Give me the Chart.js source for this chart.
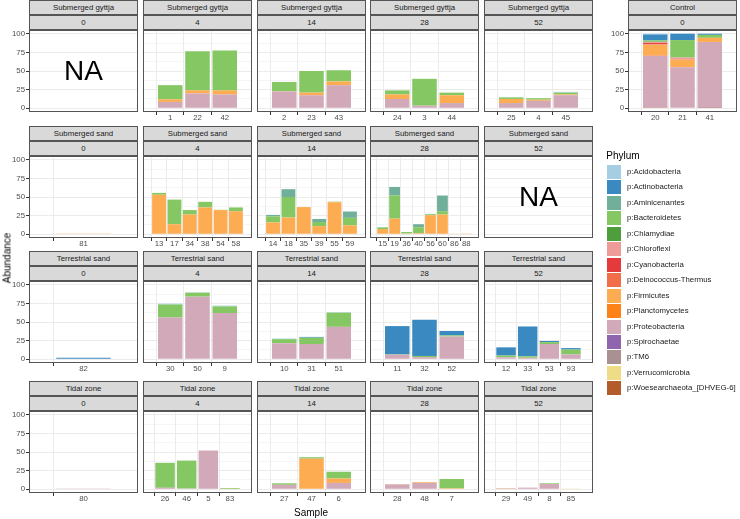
<!DOCTYPE html>
<html lang="en">
<head>
<meta charset="UTF-8">
<title>Phylum abundance by habitat and time</title>
<style>
  body { margin: 0; background: #fff; font-family: "Liberation Sans", Arial, sans-serif; }
  #wrap { position: relative; width: 740px; height: 519px; overflow: hidden; }
  canvas { position: absolute; }
  .strip { position: absolute; box-sizing: border-box; height: 15px; background: #d9d9d9; border: 1px solid #555;
           color: #1a1a1a; font-size: 7.8px; line-height: 13px; text-align: center; white-space: nowrap; }
  .na { position: absolute; font-size: 28px; color: #000; transform: translate(-50%, -50%); }
  .title { position: absolute; font-size: 10px; color: #000; white-space: nowrap; transform: translate(-50%, -50%); }
  .key { position: absolute; width: 14px; height: 14px; }
  .keylab { position: absolute; font-size: 7.8px; color: #1a1a1a; line-height: 14px; white-space: nowrap; }
</style>
<script src="https://cdn.jsdelivr.net/npm/chart.js"></script>
</head>
<body>
<div id="wrap"></div>
<script>
// legend order (top of each stacked bar first)
const phyla = ['Acidobacteria', 'Actinobacteria', 'Aminicenantes', 'Bacteroidetes', 'Chlamydiae',
  'Chloroflexi', 'Cyanobacteria', 'Deinococcus-Thermus', 'Firmicutes', 'Planctomycetes',
  'Proteobacteria', 'Spirochaetae', 'TM6', 'Verrucomicrobia', 'Woesearchaeota_[DHVEG-6]'];
const phylumColors = ['#a6cee3', '#3a89c0', '#70b09b', '#84c763', '#4f9e3c', '#ef9b98', '#e53a3b',
  '#f06e48', '#fdac52', '#fd8217', '#d2a9b8', '#8f65ae', '#a89093', '#efdc87', '#b45b2c'];

const habitats = ['Submerged gyttja', 'Submerged sand', 'Terrestrial sand', 'Tidal zone'];
const times = ['0', '4', '14', '28', '52'];
const yTicks = [0, 12.5, 25, 37.5, 50, 62.5, 75, 87.5, 100];

// Submerged gyttja
const sg4 = { samples: ['1', '22', '42'],
  Proteobacteria: [8.5, 20, 18.5], Firmicutes: [3.5, 4, 5.5], Bacteroidetes: [19, 52.5, 53.5] };
const sg14 = { samples: ['2', '23', '43'],
  Proteobacteria: [22.5, 17.5, 31], Firmicutes: [0.3, 3.5, 5], Bacteroidetes: [12.5, 29, 15] };
const sg28 = { samples: ['24', '3', '44'],
  Proteobacteria: [12.5, 3.5, 7], Firmicutes: [6, 0, 10.5], Bacteroidetes: [5.5, 36, 3.5] };
const sg52 = { samples: ['25', '4', '45'],
  Proteobacteria: [7, 10, 17.5], Firmicutes: [5.5, 1.5, 1], Bacteroidetes: [2, 2, 2.5], Acidobacteria: [0.5, 0.3, 1] };

// Control
const control0 = { samples: ['20', '21', '41'],
  'Woesearchaeota_[DHVEG-6]': [0, 0, 0.5], Verrucomicrobia: [0.5, 0, 0], Proteobacteria: [70, 55, 88.5],
  Planctomycetes: [0.8, 0, 0], Firmicutes: [14, 10, 5.5], 'Deinococcus-Thermus': [0.7, 0.5, 0],
  Cyanobacteria: [1.5, 0, 0], Chloroflexi: [1.3, 2.5, 0], Chlamydiae: [0.4, 0, 0],
  Bacteroidetes: [1.8, 23.5, 4], Actinobacteria: [8, 8.5, 1.5], Acidobacteria: [1, 0, 0] };

// Submerged sand
const ss0 = { samples: ['81'], Firmicutes: [0.5] };
const ss4 = { samples: ['13', '17', '34', '38', '54', '58'],
  Firmicutes: [53, 13.5, 26.5, 36, 32.5, 31], Bacteroidetes: [2.5, 33, 6, 7.5, 0.3, 5] };
const ss14 = { samples: ['14', '18', '35', '39', '55', '59'],
  Firmicutes: [16, 22.5, 36.5, 11, 43, 12], Bacteroidetes: [8, 27.5, 0, 5.5, 0.7, 10],
  Aminicenantes: [2, 10.5, 0, 4, 0, 8.5] };
const ss28 = { samples: ['15', '19', '36', '40', '56', '60', '86', '88'],
  Firmicutes: [7, 21, 1, 1.5, 25.5, 26.5, 0.4, 0.3], Bacteroidetes: [2, 31, 2, 8, 1.5, 4.5, 0, 0],
  Aminicenantes: [0.5, 11.5, 0, 4, 0, 21, 0, 0] };

// Terrestrial sand
const ts0 = { samples: ['82'], Actinobacteria: [2] };
const ts4 = { samples: ['30', '50', '9'],
  Proteobacteria: [56, 84, 62], Bacteroidetes: [17.5, 5.3, 9], Acidobacteria: [1, 0.5, 1] };
const ts14 = { samples: ['10', '31', '51'],
  Proteobacteria: [21.5, 20.5, 43.5], Bacteroidetes: [5.5, 8.5, 19], Actinobacteria: [0, 1, 0], Acidobacteria: [0.8, 0, 0.7] };
const ts28 = { samples: ['11', '32', '52'],
  Proteobacteria: [6, 3, 30.5], Bacteroidetes: [0.5, 1.5, 1.5], Actinobacteria: [38, 48.5, 6] };
const ts52 = { samples: ['12', '33', '53', '93'],
  Proteobacteria: [2.5, 2, 20.5, 6.5], Bacteroidetes: [2.5, 2, 2.5, 6.5], Actinobacteria: [11, 40, 1.5, 2] };

// Tidal zone
const tz0 = { samples: ['80'], Proteobacteria: [0.2] };
const tz4 = { samples: ['26', '46', '5', '83'],
  Proteobacteria: [2, 1, 52, 0], Firmicutes: [0, 0, 0, 0.5], Bacteroidetes: [33.5, 37.5, 0, 1] };
const tz14 = { samples: ['27', '47', '6'],
  Proteobacteria: [6, 0, 8.5], Firmicutes: [0, 41, 6], Bacteroidetes: [2, 2, 9] };
const tz28 = { samples: ['28', '48', '7'],
  Proteobacteria: [6.5, 8.5, 0], Firmicutes: [0.5, 1, 1.3], Bacteroidetes: [0, 0, 12.5] };
const tz52 = { samples: ['29', '49', '8', '85'],
  Proteobacteria: [1.2, 2.2, 7, 0], Firmicutes: [0.5, 0, 0, 0], Bacteroidetes: [0, 0, 1, 0], Verrucomicrobia: [0, 0, 0, 0.3] };

// null = no samples (NA facet)
const facets = [
  [null, sg4, sg14, sg28, sg52],
  [ss0, ss4, ss14, ss28, null],
  [ts0, ts4, ts14, ts28, ts52],
  [tz0, tz4, tz14, tz28, tz52]
];

// layout
const colLeft = [29, 143, 257, 370, 484];
const controlLeft = 628;
const rowTop = [30, 156, 281, 411];
const panelW = 109, panelH = 82, axisW = 30, axisH = 16;

Chart.defaults.font.family = '"Liberation Sans", Arial, sans-serif';

const wrap = document.getElementById('wrap');

const framePlugin = {
  id: 'frame',
  afterDraw(chart) {
    const { ctx, chartArea: a } = chart;
    ctx.save();
    ctx.strokeStyle = '#555';
    ctx.lineWidth = 1;
    ctx.strokeRect(a.left + 0.5, a.top + 0.5, a.right - a.left - 1, a.bottom - a.top - 1);
    ctx.restore();
  }
};

function addDiv(cls, text, left, top, width) {
  const el = document.createElement('div');
  el.className = cls;
  el.textContent = text;
  el.style.left = left + 'px';
  el.style.top = top + 'px';
  if (width) el.style.width = width + 'px';
  wrap.appendChild(el);
  return el;
}

const tickVal = c => (c.tick ? c.tick.value : NaN);

function makePanel(left, top, d, yAxis, label1, label2) {
  addDiv('strip', label1, left, top - 30, panelW);
  addDiv('strip', label2, left, top - 15, panelW);

  const ax = yAxis ? axisW : 0;
  const cv = document.createElement('canvas');
  cv.width = panelW + ax;
  cv.height = panelH + axisH;
  cv.style.left = (left - ax) + 'px';
  cv.style.top = top + 'px';
  wrap.appendChild(cv);

  const samples = d ? d.samples : [];
  const n = samples.length;
  const inRange = v => v >= 0 && v < n;
  const isMajor = v => v % 25 === 0;

  // bottom of the stack first
  const datasets = [];
  for (let i = phyla.length - 1; i >= 0; i--) {
    const vals = d ? d[phyla[i]] : null;
    if (!vals) continue;
    const pts = [];
    vals.forEach((v, j) => { if (v > 0) pts.push({ x: j, y: v }); });
    if (pts.length) datasets.push({ label: 'p:' + phyla[i], data: pts, backgroundColor: phylumColors[i] });
  }

  new Chart(cv, {
    type: 'bar',
    data: { datasets },
    plugins: [framePlugin],
    options: {
      responsive: false,
      animation: false,
      devicePixelRatio: 1,
      layout: { padding: 0, autoPadding: false },
      plugins: { legend: { display: false }, tooltip: { enabled: false } },
      datasets: { bar: { categoryPercentage: 1, barPercentage: 0.9, borderWidth: 0 } },
      scales: {
        x: {
          type: 'linear', stacked: true, min: -0.6, max: n - 0.4,
          afterBuildTicks: s => {
            s.ticks = [];
            for (let i = -1; i <= n; i++) s.ticks.push({ value: i });
          },
          afterFit: s => { s.height = axisH; s.paddingLeft = 0; s.paddingRight = 0; },
          ticks: {
            autoSkip: false, maxRotation: 0, padding: -1, color: '#4d4d4d',
            font: { size: 7.8, lineHeight: 1 },
            callback: v => samples[v] ?? ''
          },
          grid: {
            color: c => inRange(tickVal(c)) ? '#ebebeb' : 'transparent',
            tickColor: c => inRange(tickVal(c)) ? '#333' : 'transparent',
            tickLength: 3, lineWidth: 1
          },
          border: { display: false }
        },
        y: {
          stacked: true, min: -5, max: 105,
          afterBuildTicks: s => { s.ticks = yTicks.map(v => ({ value: v })); },
          afterFit: s => { s.width = ax; s.paddingTop = 0; s.paddingBottom = 0; },
          ticks: {
            display: yAxis, padding: 1, color: '#4d4d4d',
            font: { size: 7.8, lineHeight: 1 },
            callback: v => isMajor(v) ? v : ''
          },
          grid: {
            color: '#ebebeb',
            lineWidth: c => isMajor(tickVal(c)) ? 1 : 0.5,
            tickColor: c => yAxis && isMajor(tickVal(c)) ? '#333' : 'transparent',
            tickLength: 3
          },
          border: { display: false }
        }
      }
    }
  });

  if (!d) addDiv('na', 'NA', left + panelW / 2, top + panelH / 2);
}

facets.forEach((row, r) => {
  row.forEach((d, c) => makePanel(colLeft[c], rowTop[r], d, c === 0, habitats[r], times[c]));
});
makePanel(controlLeft, rowTop[0], control0, true, 'Control', '0');

// axis titles
const yTitle = addDiv('title', 'Abundance', 7, 258);
yTitle.style.transform = 'translate(-50%, -50%) rotate(-90deg)';
addDiv('title', 'Sample', 311, 512);

// legend
addDiv('title', 'Phylum', 623, 155);
phyla.forEach((p, i) => {
  const top = 165 + i * 15.45;
  const k = addDiv('key', '', 607, top);
  k.style.background = phylumColors[i];
  addDiv('keylab', 'p:' + p, 627, top);
});
</script>
</body>
</html>
